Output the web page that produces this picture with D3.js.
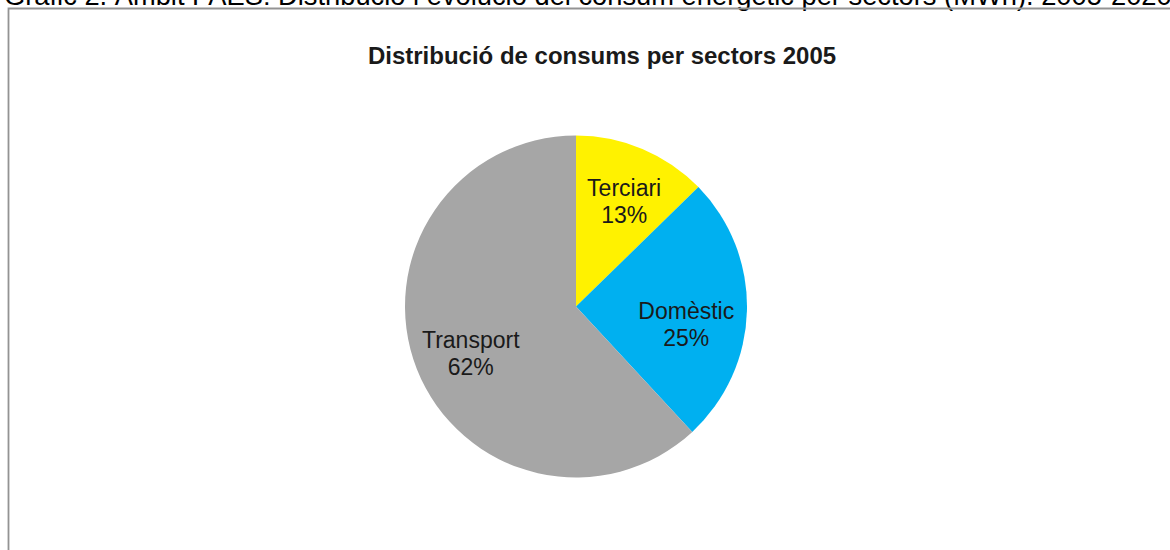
<!DOCTYPE html>
<html>
<head>
<meta charset="utf-8">
<script src="https://cdn.jsdelivr.net/npm/d3@7"></script>
<style>
  body { margin: 0; background: #fff; }
  svg { display: block; font-family: "Liberation Sans", Arial, sans-serif; }
</style>
</head>
<body>
<svg id="chart"></svg>
<script>
// Data
const sectors = ["Terciari", "Domèstic", "Transport"];
const shares = [12.7, 25.4, 61.9];
const sectorColors = ["#fff200", "#00b0f0", "#a6a6a6"];

const captionText = "Gràfic 2. Àmbit PAES: Distribució i evolució del consum energètic per sectors (MWh). 2005-2020";
const titleText = "Distribució de consums per sectors 2005";

// Set dimensions
const width = 1170, height = 550;
const cx = 576, cy = 306.5, radius = 171;

const svg = d3.select("#chart")
    .attr("width", width)
    .attr("height", height);

// Caption above the frame (cut off at the top, like the source screenshot)
const caption = svg.append("text")
    .attr("x", 4)
    .attr("y", 5)
    .style("font-size", "24px")
    .style("fill", "#000")
    .text(captionText);
// stretch font so the line runs to the right edge
const capLen = caption.node().getComputedTextLength();
caption.style("font-size", (24 * 1168 / capLen) + "px");

// Frame
svg.append("path")
    .attr("d", `M8.5,${height + 2}V8.5H${width + 2}`)
    .attr("fill", "none")
    .attr("stroke", "#939393")
    .attr("stroke-width", 1.8);

// Title
svg.append("text")
    .attr("x", 602)
    .attr("y", 64)
    .attr("text-anchor", "middle")
    .style("font-size", "24px")
    .style("font-weight", "bold")
    .style("fill", "#1a1a1a")
    .text(titleText);

// Pie
const pie = d3.pie().sort(null).value(d => d.value);
const data = sectors.map((s, i) => ({ name: s, value: shares[i], color: sectorColors[i] }));
const arcs = pie(data);
const total = d3.sum(shares);

const arc = d3.arc().innerRadius(0).outerRadius(radius);
const labelArc = d3.arc().innerRadius(radius * 0.68).outerRadius(radius * 0.68);

// small label nudges to follow the original's best-fit placement
const labelNudge = { "Terciari": [3, 2], "Domèstic": [-6, 15], "Transport": [3, 4] };

const g = svg.append("g").attr("transform", `translate(${cx},${cy})`);

g.selectAll("path.slice")
    .data(arcs)
    .enter().append("path")
    .attr("class", "slice")
    .attr("d", arc)
    .attr("fill", d => d.data.color);

const labels = g.selectAll("text.lbl")
    .data(arcs)
    .enter().append("text")
    .attr("class", "lbl")
    .attr("text-anchor", "middle")
    .attr("transform", d => {
        const [x, y] = labelArc.centroid(d);
        const n = labelNudge[d.data.name] || [0, 0];
        return `translate(${x + n[0]},${y + n[1]})`;
    })
    .style("font-size", "23px")
    .style("fill", "#1a1a1a");

labels.append("tspan")
    .attr("x", 0)
    .attr("y", -5)
    .text(d => d.data.name);

labels.append("tspan")
    .attr("x", 0)
    .attr("y", 22)
    .text(d => Math.round(d.data.value / total * 100) + "%");
</script>
</body>
</html>
